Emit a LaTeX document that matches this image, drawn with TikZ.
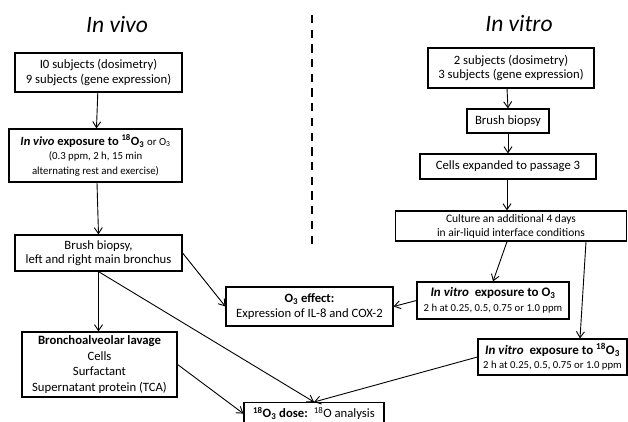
\documentclass[tikz,border=0pt]{standalone}
\usepackage{fontspec}
\setmainfont{Carlito}
\usetikzlibrary{arrows.meta}
\newcommand{\fsz}[2]{\fontsize{#1}{#2}\selectfont}
\tikzset{
  box/.style={draw=black, line width=1.2pt, fill=white, align=center, inner sep=0.5pt, font=\fsz{12.7}{14.5}},
  arr/.style={line width=0.9pt, -{Straight Barb[length=6pt,width=8pt,line width=0.9pt]}},
  title/.style={font=\fsz{23.5}{27}\itshape},
}
\begin{document}
\begin{tikzpicture}[x=1pt,y=-1pt]
\useasboundingbox (0,0) rectangle (628,422);
% titles
\node[title] (tvivo) at (117,24) {In vivo};
\node[title] (tvitro) at (519,24) {In vitro};
\coordinate (dtop) at (311.7,15);
\coordinate (dbot) at (311.7,245);
\draw[line width=2.2pt, dash pattern=on 8.3pt off 6.4pt] (dtop) -- (dbot);
% in vivo column
\node[box, minimum width=167pt, minimum height=39pt] (subj1) at (98.5,72.5) {I0 subjects (dosimetry)\\9 subjects (gene expression)};
\node[box, minimum width=173pt, minimum height=53pt] (expo1) at (95.5,155.5)
  {\fsz{12.5}{15}\textbf{\textit{In vivo} exposure to \textsuperscript{18}O\textsubscript{3}} {\fsz{10.8}{13}or O\textsubscript{3}}\\
   {\fsz{10.8}{13.5}(0.3 ppm, 2 h, 15 min}\\
   {\fsz{10.8}{13.5}alternating rest and exercise)}};
\node[box, minimum width=167pt, minimum height=36pt] (brush1) at (98.5,253) {Brush biopsy,\\left and right main bronchus};
\node[box, minimum width=155pt, minimum height=65pt, font=\fsz{12.7}{15.6}] (bal) at (99.5,364.5) {\textbf{Bronchoalveolar lavage}\\Cells\\Surfactant\\Supernatant protein (TCA)};
\node[box, minimum width=167pt, minimum height=39pt] (effect) at (309.5,306.5) {\textbf{O\textsubscript{3} effect:}\\Expression of IL-8 and COX-2};
\node[box, minimum width=140pt, minimum height=22pt, anchor=north, font=\fsz{12.7}{14}] (dose) at (314,402) {\textbf{\textsuperscript{18}O\textsubscript{3} dose:}\, \textsuperscript{18}O analysis};
% in vitro column
\node[box, minimum width=166pt, minimum height=40pt] (subj2) at (511,68) {2 subjects (dosimetry)\\3 subjects (gene expression)};
\node[box, minimum width=82pt, minimum height=24pt] (brush2) at (508,121) {Brush biopsy};
\node[box, minimum width=176pt, minimum height=25pt] (cells) at (508,166.5) {Cells expanded to passage 3};
\node[box, minimum width=231pt, minimum height=30pt, font=\fsz{11.5}{14}] (culture) at (511,226) {Culture an additional 4 days\\in air-liquid interface conditions};
\node[box, minimum width=152pt, minimum height=37pt] (vo3) at (493,300.5) {{\fsz{13}{12}\textbf{\textit{In vitro}\ \ exposure to O\textsubscript{3}}}\\{\fsz{10.7}{12}2 h at 0.25, 0.5, 0.75 or 1.0 ppm}};
\node[box, minimum width=149pt, minimum height=36pt] (v18) at (552.5,357) {{\fsz{13}{12}\textbf{\textit{In vitro}\ \ exposure to \textsuperscript{18}O\textsubscript{3}}}\\{\fsz{10.7}{12}2 h at 0.25, 0.5, 0.75 or 1.0 ppm}};
% arrows
\draw[arr] (subj1) -- (expo1);
\draw[arr] ([xshift=1.5pt]expo1.south) -- (brush1.north);
\draw[arr] (brush1.south) -- (brush1.south |- bal.north);
\draw[arr] (brush1.east) -- (effect.west);
\draw[arr] (brush1.south) -- (dose.north);
\draw[arr] (bal.east) -- (dose.west);
\draw[arr] ([xshift=-4pt]subj2.south) -- (brush2.north);
\draw[arr] (brush2.south) -- (brush2.south |- cells.north);
\draw[arr] ([xshift=-1pt]cells.south) -- ([xshift=-4pt]culture.north);
\draw[arr] ([xshift=-4pt]culture.south) -- (vo3.north);
\draw[arr] ([xshift=75pt]culture.south) -- ([xshift=27.5pt]v18.north);
\draw[arr] (vo3.west) -- (effect.east);
\draw[arr] (v18.west) -- (dose.north);
\end{tikzpicture}
\end{document}
